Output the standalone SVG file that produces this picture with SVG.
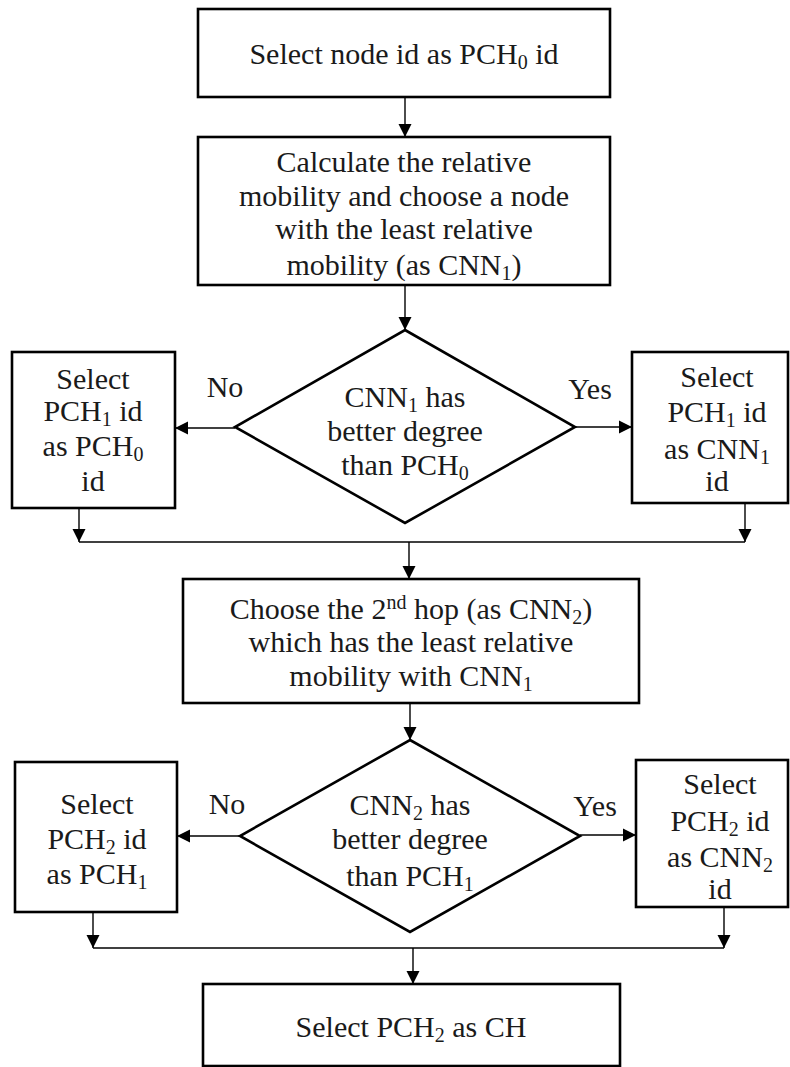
<svg xmlns="http://www.w3.org/2000/svg" width="790" height="1067" viewBox="0 0 790 1067" font-family="'Liberation Serif', Tinos, 'Times New Roman', 'DejaVu Serif', serif">
  <style>
    .box { fill: #ffffff; stroke: #000000; stroke-width: 2.6; }
    .dec { fill: #ffffff; stroke: #000000; stroke-width: 2.6; stroke-linejoin: miter; }
    .wire { fill: none; stroke: #000000; stroke-width: 1.4; }
    text { font-family: 'Liberation Serif', Tinos, 'Times New Roman', 'DejaVu Serif', serif; font-size: 30px; fill: #1a1a1a; text-anchor: middle; }
    .sub { font-size: 20px; }
  </style>
  <defs>
    <marker id="arrow" markerUnits="userSpaceOnUse" markerWidth="14" markerHeight="14" refX="13" refY="7" orient="auto">
      <path d="M0,0.5 L13,7 L0,13.5 Z" fill="#000000"/>
    </marker>
  </defs>

  <rect width="790" height="1067" fill="#ffffff"/>

  <!-- connectors -->
  <g id="connectors">
    <line class="wire" x1="405" y1="97" x2="405" y2="137" marker-end="url(#arrow)"/>
    <line class="wire" x1="405" y1="285" x2="405" y2="330" marker-end="url(#arrow)"/>
    <line class="wire" x1="235" y1="428" x2="175" y2="428" marker-end="url(#arrow)"/>
    <line class="wire" x1="575" y1="427" x2="632" y2="427" marker-end="url(#arrow)"/>
    <line class="wire" x1="79" y1="508" x2="79" y2="542" marker-end="url(#arrow)"/>
    <line class="wire" x1="745" y1="503" x2="745" y2="542" marker-end="url(#arrow)"/>
    <line class="wire" x1="79" y1="542" x2="745" y2="542"/>
    <line class="wire" x1="409" y1="542" x2="409" y2="579" marker-end="url(#arrow)"/>
    <line class="wire" x1="410" y1="703" x2="410" y2="740" marker-end="url(#arrow)"/>
    <line class="wire" x1="240" y1="836" x2="177" y2="836" marker-end="url(#arrow)"/>
    <line class="wire" x1="580" y1="835" x2="636" y2="835" marker-end="url(#arrow)"/>
    <line class="wire" x1="93" y1="912" x2="93" y2="948" marker-end="url(#arrow)"/>
    <line class="wire" x1="724" y1="907" x2="724" y2="948" marker-end="url(#arrow)"/>
    <line class="wire" x1="93" y1="948" x2="724" y2="948"/>
    <line class="wire" x1="413" y1="948" x2="413" y2="984" marker-end="url(#arrow)"/>
    <text x="225" y="397">No</text>
    <text x="590" y="399">Yes</text>
    <text x="227" y="814">No</text>
    <text x="595" y="816">Yes</text>
  </g>

  <g id="start">
    <rect class="box" x="198" y="9" width="412" height="88"/>
    <text x="404" y="64">Select node id as PCH<tspan class="sub" dy="5">0</tspan><tspan dy="-5"> id</tspan></text>
  </g>

  <g id="calc-mobility">
    <rect class="box" x="198" y="137" width="412" height="148"/>
    <text x="404" y="172">Calculate the relative</text>
    <text x="404" y="206">mobility and choose a node</text>
    <text x="404" y="239">with the least relative</text>
    <text x="404" y="275">mobility (as CNN<tspan class="sub" dy="5">1</tspan><tspan dy="-5">)</tspan></text>
  </g>

  <g id="decision-1">
    <polygon class="dec" points="405,330 575,427 405,523 235,427"/>
    <text x="405" y="407">CNN<tspan class="sub" dy="5">1</tspan><tspan dy="-5"> has</tspan></text>
    <text x="405" y="441">better degree</text>
    <text x="405" y="475">than PCH<tspan class="sub" dy="5">0</tspan></text>
  </g>

  <g id="no-1">
    <rect class="box" x="12" y="352" width="163" height="156"/>
    <text x="93" y="389">Select</text>
    <text x="93" y="421">PCH<tspan class="sub" dy="5">1</tspan><tspan dy="-5"> id</tspan></text>
    <text x="93" y="456">as PCH<tspan class="sub" dy="5">0</tspan></text>
    <text x="93" y="491">id</text>
  </g>

  <g id="yes-1">
    <rect class="box" x="632" y="352" width="156" height="151"/>
    <text x="717" y="387">Select</text>
    <text x="717" y="422">PCH<tspan class="sub" dy="5">1</tspan><tspan dy="-5"> id</tspan></text>
    <text x="717" y="459">as CNN<tspan class="sub" dy="5">1</tspan></text>
    <text x="717" y="491">id</text>
  </g>

  <g id="second-hop">
    <rect class="box" x="183" y="579" width="456" height="124"/>
    <text x="411" y="619">Choose the 2<tspan class="sub" dy="-10">nd</tspan><tspan dy="10"> hop (as CNN</tspan><tspan class="sub" dy="5">2</tspan><tspan dy="-5">)</tspan></text>
    <text x="411" y="652">which has the least relative</text>
    <text x="411" y="686">mobility with CNN<tspan class="sub" dy="5">1</tspan></text>
  </g>

  <g id="decision-2">
    <polygon class="dec" points="410,740 580,836 410,932 240,836"/>
    <text x="410" y="815">CNN<tspan class="sub" dy="5">2</tspan><tspan dy="-5"> has</tspan></text>
    <text x="410" y="849">better degree</text>
    <text x="410" y="886">than PCH<tspan class="sub" dy="5">1</tspan></text>
  </g>

  <g id="no-2">
    <rect class="box" x="15" y="762" width="162" height="150"/>
    <text x="97" y="814">Select</text>
    <text x="97" y="849">PCH<tspan class="sub" dy="5">2</tspan><tspan dy="-5"> id</tspan></text>
    <text x="97" y="884">as PCH<tspan class="sub" dy="5">1</tspan></text>
  </g>

  <g id="yes-2">
    <rect class="box" x="636" y="760" width="152" height="147"/>
    <text x="720" y="794">Select</text>
    <text x="720" y="831">PCH<tspan class="sub" dy="5">2</tspan><tspan dy="-5"> id</tspan></text>
    <text x="720" y="867">as CNN<tspan class="sub" dy="5">2</tspan></text>
    <text x="720" y="899">id</text>
  </g>

  <g id="cluster-head">
    <rect class="box" x="203" y="984" width="417" height="82"/>
    <text x="411" y="1037">Select PCH<tspan class="sub" dy="5">2</tspan><tspan dy="-5"> as CH</tspan></text>
  </g>
</svg>
